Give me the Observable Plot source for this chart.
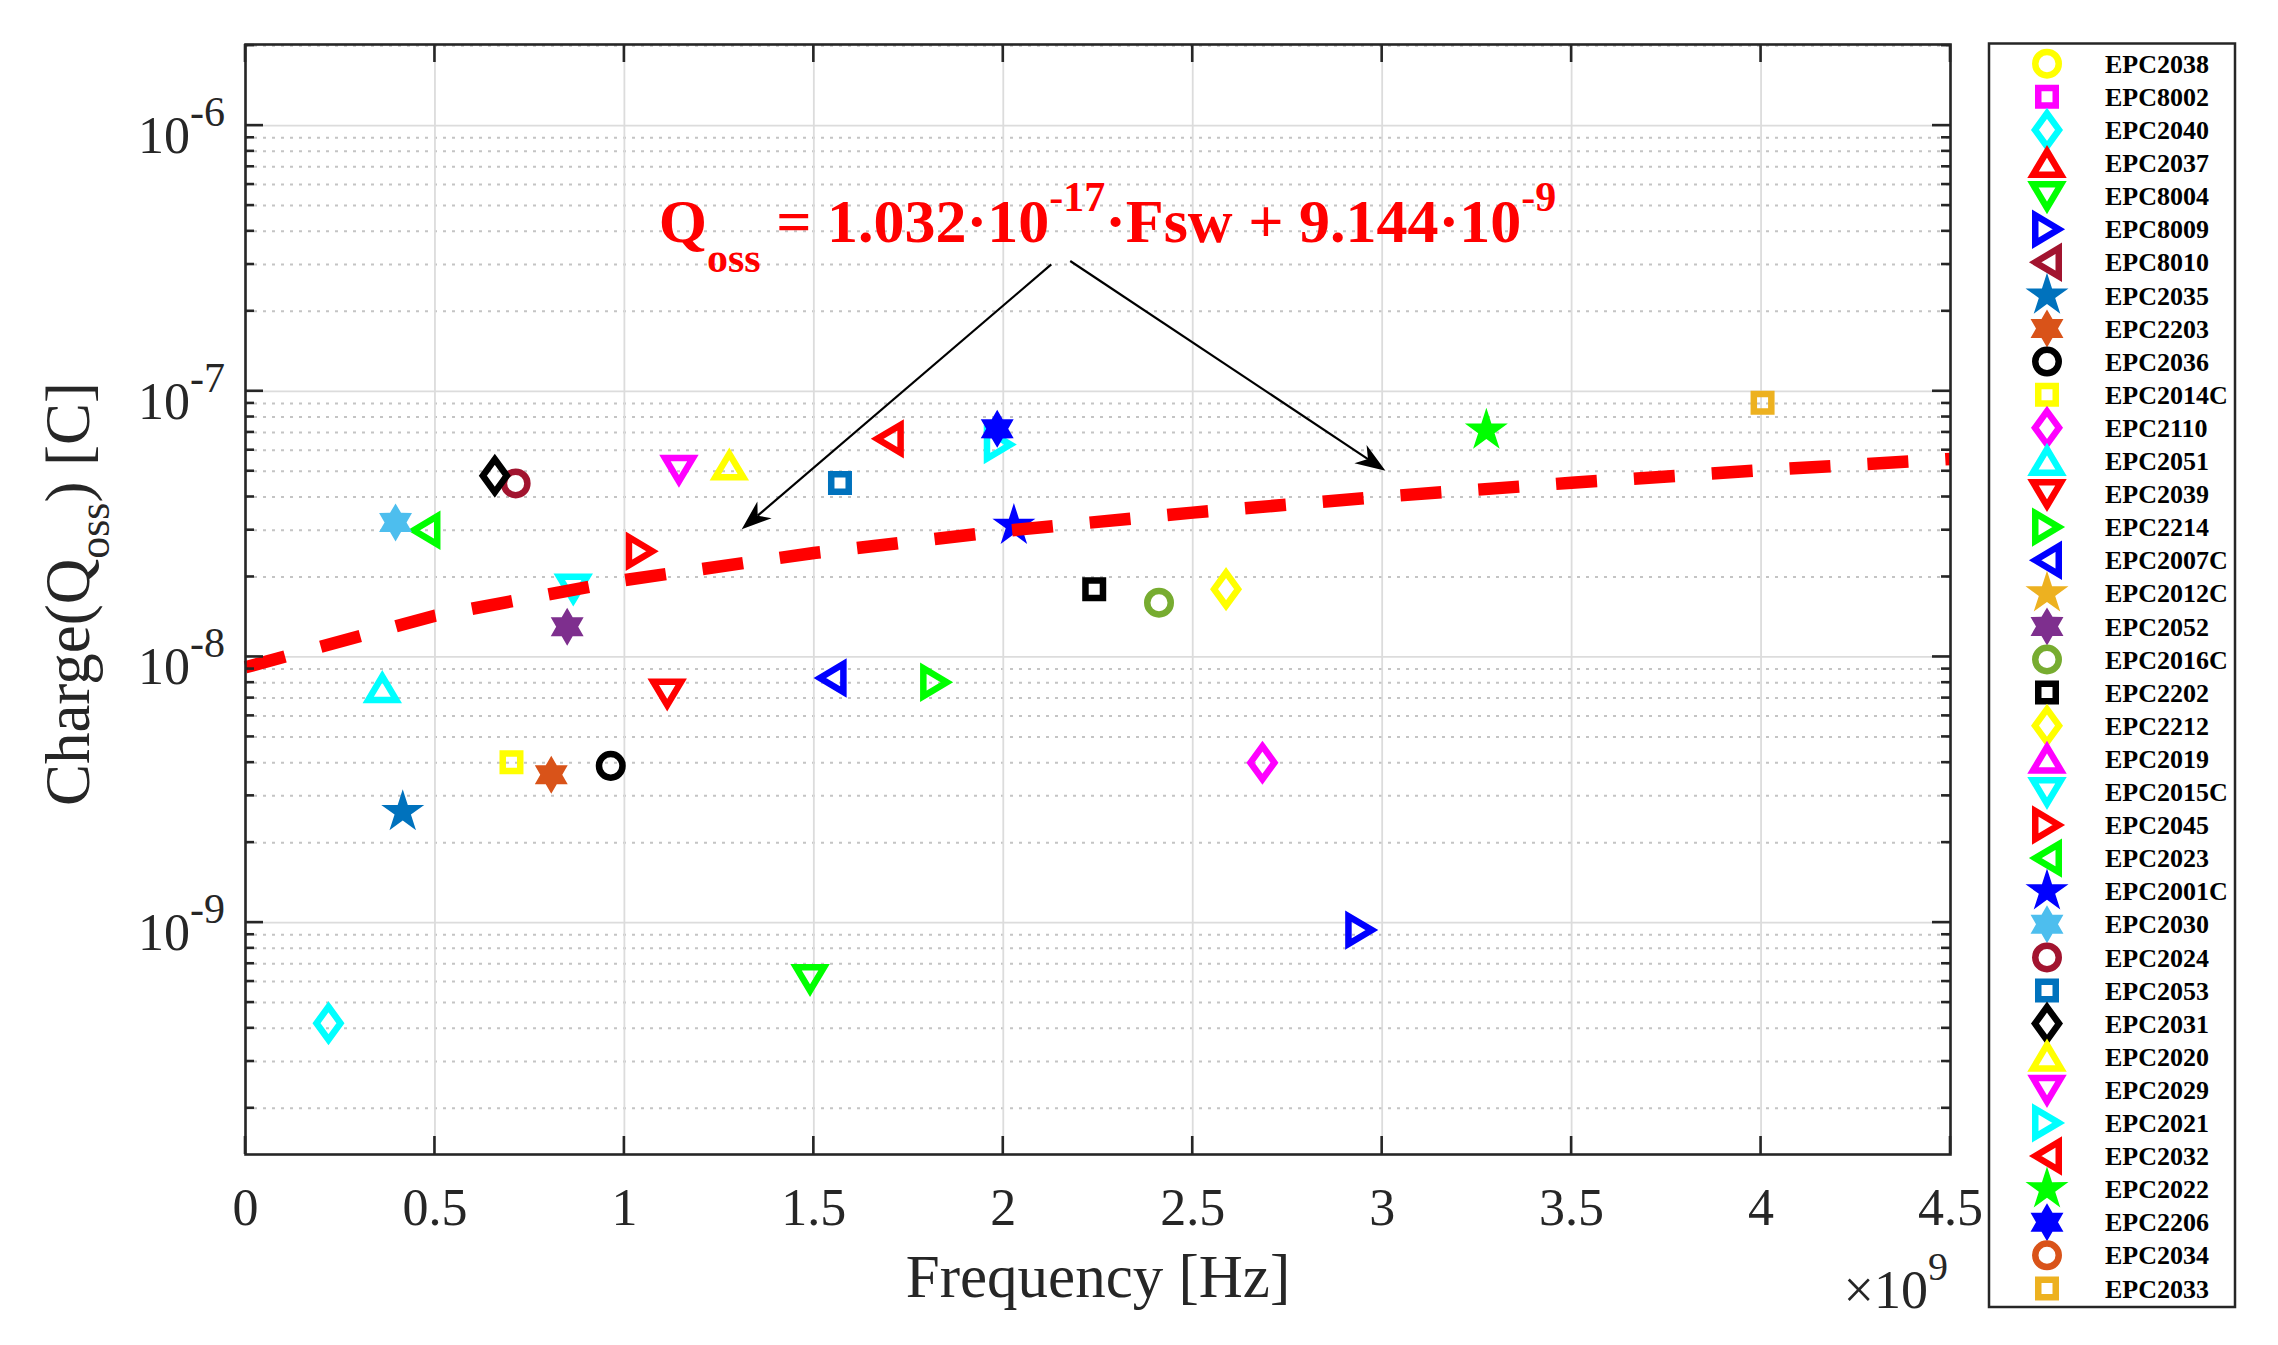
<!DOCTYPE html>
<html>
<head>
<meta charset="utf-8">
<script src="https://cdn.jsdelivr.net/npm/d3@7"></script>
<script src="https://cdn.jsdelivr.net/npm/@observablehq/plot@0.6"></script>
<style>
  body { margin: 0; background: white; overflow: hidden; }
  #chart svg { display: block; }
</style>
</head>
<body>
<div id="chart"></div>
<script>
/* Data: devices in legend order (MATLAB marker / colour cycle) */
const devices = ['EPC2038', 'EPC8002', 'EPC2040', 'EPC2037', 'EPC8004', 'EPC8009', 'EPC8010', 'EPC2035',
  'EPC2203', 'EPC2036', 'EPC2014C', 'EPC2110', 'EPC2051', 'EPC2039', 'EPC2214', 'EPC2007C', 'EPC2012C',
  'EPC2052', 'EPC2016C', 'EPC2202', 'EPC2212', 'EPC2019', 'EPC2015C', 'EPC2045', 'EPC2023', 'EPC2001C',
  'EPC2030', 'EPC2024', 'EPC2053', 'EPC2031', 'EPC2020', 'EPC2029', 'EPC2021', 'EPC2032', 'EPC2022',
  'EPC2206', 'EPC2034', 'EPC2033']
const markerKinds = ['o', 's', 'd', '^', 'v', '>', '<', 'p', 'h', 'o', 's', 'd', '^', 'v', '>', '<', 'p',
  'h', 'o', 's', 'd', '^', 'v', '>', '<', 'p', 'h', 'o', 's', 'd', '^', 'v', '>', '<', 'p', 'h', 'o', 's']
const markerColors = ['#ffff00', '#ff00ff', '#00ffff', '#ff0000', '#00ff00', '#0000ff', '#a2142f', '#0072bd',
  '#d95319', '#000000', '#ffff00', '#ff00ff', '#00ffff', '#ff0000', '#00ff00', '#0000ff', '#edb120',
  '#7e2f8e', '#77ac30', '#000000', '#ffff00', '#ff00ff', '#00ffff', '#ff0000', '#00ff00', '#0000ff',
  '#4dbeee', '#a2142f', '#0072bd', '#000000', '#ffff00', '#ff00ff', '#00ffff', '#ff0000', '#00ff00',
  '#0000ff', '#d95319', '#edb120']
// frequency [Hz] (null = not visible in the chart)
const freqHz = [null, null, 0.219e9, null, 1.490e9, 2.942e9, null, 0.415e9,
  0.807e9, 0.964e9, 0.702e9, 2.684e9, 0.361e9, 1.113e9, 1.820e9, 1.547e9, null,
  0.849e9, 2.411e9, 2.240e9, 2.588e9, null, 0.865e9, 1.043e9, 0.475e9, 2.028e9,
  0.396e9, 0.713e9, 1.569e9, 0.658e9, 1.277e9, 1.144e9, 1.988e9, 1.698e9, 3.275e9,
  1.984e9, null, 4.004e9]
// output charge Qoss [C]
const qossC = [null, null, 4.18e-10, null, 6.14e-10, 9.37e-10, null, 2.61e-9,
  3.60e-9, 3.89e-9, 4.01e-9, 4.00e-9, 7.63e-9, 7.29e-9, 8.03e-9, 8.33e-9, null,
  1.30e-8, 1.60e-8, 1.80e-8, 1.80e-8, null, 1.81e-8, 2.50e-8, 3.00e-8, 3.12e-8,
  3.21e-8, 4.50e-8, 4.52e-8, 4.81e-8, 5.25e-8, 5.07e-8, 6.30e-8, 6.62e-8, 7.12e-8,
  7.22e-8, null, 9.05e-8]

/* Fitted line */
const fitFreq = [0, 0.5e9, 1e9, 1.5e9, 2e9, 2.5e9, 3e9, 3.5e9, 4e9, 4.5e9]
const fitQoss = [9.144e-9, 1.430e-8, 1.946e-8, 2.462e-8, 2.978e-8, 3.494e-8, 4.010e-8, 4.526e-8, 5.042e-8, 5.558e-8]

/* Annotation */
const arrowTails = [[2.128e9, 2.99e-7], [2.178e9, 3.08e-7]]
const arrowTips = [[1.311e9, 3.01e-8], [3.01e9, 5.0e-8]]
const annotAt = [1.092e9, 3.64e-7]

/* Axes */
const xDomain = [0, 4.5e9]
const yDomain = [1.34e-10, 2.02e-6]
const xTicks = [0, 0.5e9, 1e9, 1.5e9, 2e9, 2.5e9, 3e9, 3.5e9, 4e9, 4.5e9]
const xTickLabels = ['0', '0.5', '1', '1.5', '2', '2.5', '3', '3.5', '4', '4.5']
const yTicks = [1e-9, 1e-8, 1e-7, 1e-6]
const yTickExps = ['-9', '-8', '-7', '-6']
const yMinor = []
for (let e = -10; e <= -6; e++) {
  for (let m = 2; m <= 9; m++) {
    const v = m * Math.pow(10, e)
    if (v > yDomain[0] && v < yDomain[1]) yMinor.push(v)
  }
}

const FONT = "'Liberation Serif', 'Times New Roman', serif"
const INK = '#262626'

/* MATLAB-like markers */
const R0 = 11.75
function sym(fn) {
  return { draw(ctx, size) { fn(ctx, Math.sqrt(size / Math.PI) / R0) } }
}
function poly(pts) {
  return sym((c, k) => {
    pts.forEach(([px, py], i) => i ? c.lineTo(px * k, py * k) : c.moveTo(px * k, py * k))
    c.closePath()
  })
}
function starPts(n, R, r) {
  const pts = []
  for (let i = 0; i < 2 * n; i++) {
    const a = -Math.PI / 2 + i * Math.PI / n
    const rad = i % 2 ? r : R
    pts.push([rad * Math.cos(a), rad * Math.sin(a)])
  }
  return pts
}
const SYMBOLS = {
  'o': sym((c, k) => { c.moveTo(R0 * k, 0); c.arc(0, 0, R0 * k, 0, 2 * Math.PI) }),
  's': poly([[-8.75, -8.75], [8.75, -8.75], [8.75, 8.75], [-8.75, 8.75]]),
  'd': poly([[0, -16.5], [12, 0], [0, 16.5], [-12, 0]]),
  '^': poly([[0, -11.75], [14, 11.75], [-14, 11.75]]),
  'v': poly([[0, 11.75], [14, -11.75], [-14, -11.75]]),
  '>': poly([[11.75, 0], [-11.75, -14], [-11.75, 14]]),
  '<': poly([[-11.75, 0], [11.75, -14], [11.75, 14]]),
  'p': poly(starPts(5, 22.6, 8.6)),
  'h': poly(starPts(6, 19, 11)),
}
const FILLED = new Set(['p', 'h'])

const points = devices
  .map((name, i) => ({ name, kind: markerKinds[i], color: markerColors[i], f: freqHz[i], q: qossC[i] }))
  .filter(d => d.f != null && d.q != null)

/* Custom pieces drawn with the plot's scales */
function boxTicks(index, { x, y }, values, dim) {
  const left = dim.marginLeft, right = dim.width - dim.marginRight
  const top = dim.marginTop, bottom = dim.height - dim.marginBottom
  const g = d3.create('svg:g').attr('stroke', INK).attr('stroke-width', 2.6)
  const seg = (x1, y1, x2, y2) => g.append('line').attr('x1', x1).attr('y1', y1).attr('x2', x2).attr('y2', y2)
  xTicks.forEach(v => { const px = x(v); seg(px, bottom, px, bottom - 18); seg(px, top, px, top + 18) })
  yTicks.forEach(v => { const py = y(v); seg(left, py, left + 18, py); seg(right, py, right - 18, py) })
  yMinor.forEach(v => { const py = y(v); seg(left, py, left + 9, py); seg(right, py, right - 9, py) })
  return g.node()
}

function yTickText(index, { y }, values, dim) {
  const g = d3.create('svg:g').attr('fill', INK).attr('font-family', FONT)
  yTicks.forEach((v, i) => {
    const t = g.append('text').attr('x', dim.marginLeft - 20).attr('y', y(v) + 28)
      .attr('text-anchor', 'end').attr('font-size', 52)
    t.append('tspan').text('10')
    t.append('tspan').attr('font-size', 42).attr('dy', -27).text(yTickExps[i])
  })
  return g.node()
}

function axisTitles(index, scales, values, dim) {
  const g = d3.create('svg:g').attr('fill', INK).attr('font-family', FONT)
  const yl = g.append('text').attr('transform', 'translate(89,594) rotate(-90)')
    .attr('text-anchor', 'middle').attr('font-size', 63)
  yl.append('tspan').text('Charge(Q')
  yl.append('tspan').attr('font-size', 44).attr('dy', 20).text('oss')
  yl.append('tspan').attr('dy', -20).text(') [C]')
  const mult = g.append('text').attr('x', dim.width - dim.marginRight - 2).attr('y', 1308)
    .attr('text-anchor', 'end').attr('font-size', 54)
  mult.append('tspan').text('\u00d710')
  mult.append('tspan').attr('font-size', 40).attr('dy', -28).text('9')
  return g.node()
}

function annotation(index, { x, y }) {
  const g = d3.create('svg:g')
  arrowTails.forEach((tail, i) => {
    const x1 = x(tail[0]), y1 = y(tail[1])
    const x2 = x(arrowTips[i][0]), y2 = y(arrowTips[i][1])
    const a = Math.atan2(y2 - y1, x2 - x1)
    const L = 30, W = 11, N = 21
    const bx = x2 - L * Math.cos(a), by = y2 - L * Math.sin(a)
    const nx = x2 - N * Math.cos(a), ny = y2 - N * Math.sin(a)
    g.append('line').attr('x1', x1).attr('y1', y1).attr('x2', nx).attr('y2', ny)
      .attr('stroke', 'black').attr('stroke-width', 2.2)
    g.append('path').attr('fill', 'black').attr('d',
      `M${x2},${y2}L${bx - W * Math.sin(a)},${by + W * Math.cos(a)}L${nx},${ny}` +
      `L${bx + W * Math.sin(a)},${by - W * Math.cos(a)}Z`)
  })
  const t = g.append('text').attr('x', x(annotAt[0])).attr('y', y(annotAt[1]))
    .attr('text-anchor', 'start')
    .attr('font-family', FONT).attr('font-weight', 'bold').attr('font-size', 62).attr('fill', '#ff0000')
  t.append('tspan').text('Q')
  t.append('tspan').attr('font-size', 42).attr('dy', 30).text('oss')
  t.append('tspan').attr('dy', -30).text(' = 1.032\u00b710')
  t.append('tspan').attr('font-size', 42).attr('dy', -31).text('-17')
  t.append('tspan').attr('dy', 31).text('\u00b7Fsw + 9.144\u00b710')
  t.append('tspan').attr('font-size', 42).attr('dy', -31).text('-9')
  return g.node()
}

function legend() {
  const box = { x: 1989, y: 43.5, w: 246, h: 1263.5 }
  const row0 = 63.7, step = 33.1, symX = 2047, textX = 2105
  const g = d3.create('svg:g').attr('text-anchor', 'start')
  g.append('rect').attr('x', box.x).attr('y', box.y).attr('width', box.w).attr('height', box.h)
    .attr('fill', 'white').attr('stroke', INK).attr('stroke-width', 2.5)
  devices.forEach((name, i) => {
    const cy = row0 + i * step
    const kind = markerKinds[i]
    const filled = FILLED.has(kind)
    g.append('path')
      .attr('transform', `translate(${symX},${cy})`)
      .attr('d', d3.symbol(SYMBOLS[kind], Math.PI * R0 * R0)())
      .attr('fill', filled ? markerColors[i] : 'none')
      .attr('stroke', filled ? 'none' : markerColors[i])
      .attr('stroke-width', 6.5)
    g.append('text').attr('x', textX).attr('y', cy).attr('dy', '0.35em')
      .attr('font-family', FONT).attr('font-weight', 'bold').attr('font-size', 26)
      .attr('fill', 'black').text(name)
  })
  return g.node()
}

const chart = Plot.plot({
  width: 2278,
  height: 1345,
  marginLeft: 245,
  marginRight: 328,
  marginTop: 44,
  marginBottom: 191,
  style: { fontFamily: FONT, background: 'white', color: INK },
  x: { domain: xDomain, axis: null },
  y: { type: 'log', domain: yDomain, axis: null },
  marks: [
    Plot.ruleY(yMinor, { stroke: '#c4c4c4', strokeWidth: 2, strokeDasharray: '3,6' }),
    Plot.ruleY(yTicks, { stroke: '#dcdcdc', strokeWidth: 1.8 }),
    Plot.ruleX(xTicks, { stroke: '#dcdcdc', strokeWidth: 1.8 }),
    Plot.dot(points, {
      x: 'f',
      y: 'q',
      r: R0,
      symbol: d => SYMBOLS[d.kind],
      fill: d => FILLED.has(d.kind) ? d.color : 'none',
      stroke: d => FILLED.has(d.kind) ? 'none' : d.color,
      strokeWidth: 6.5,
    }),
    Plot.line(fitFreq, {
      x: d => d,
      y: (d, i) => fitQoss[i],
      stroke: '#ff0000',
      strokeWidth: 12.5,
      strokeDasharray: '41,37',
      strokeLinecap: 'butt',
    }),
    annotation,
    Plot.frame({ stroke: INK, strokeWidth: 2.6 }),
    boxTicks,
    Plot.text(xTicks, {
      x: d => d,
      text: (d, i) => xTickLabels[i],
      frameAnchor: 'bottom',
      lineAnchor: 'bottom',
      dy: 70,
      fontSize: 52,
      fill: INK,
    }),
    Plot.text(['Frequency [Hz]'], {
      frameAnchor: 'bottom',
      lineAnchor: 'bottom',
      dy: 142,
      fontSize: 61,
      fill: INK,
    }),
    yTickText,
    axisTitles,
    legend,
  ],
})

d3.select('#chart').append(() => chart)
</script>
</body>
</html>
